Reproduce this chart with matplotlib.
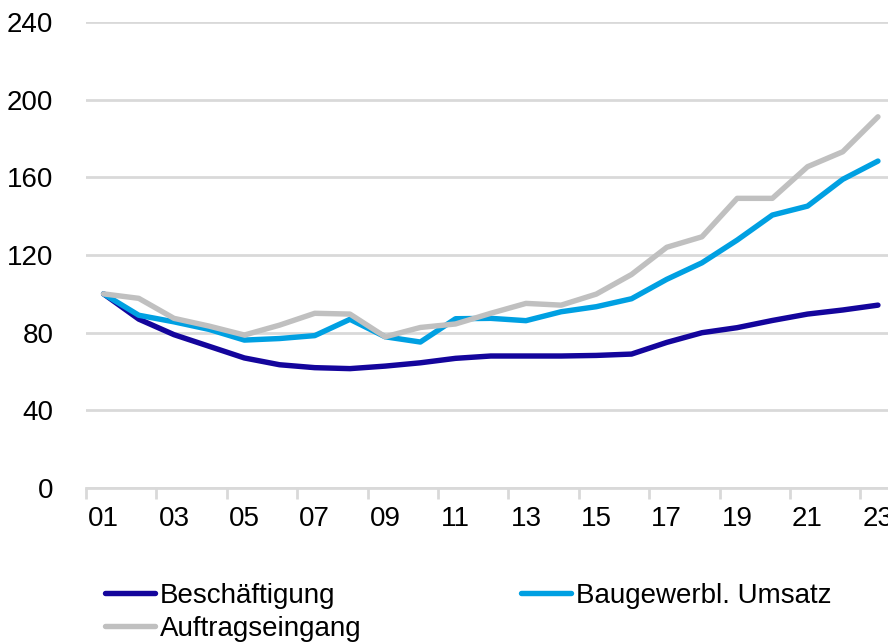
import matplotlib.pyplot as plt

years = list(range(1, 24))
tick_labels = ["01", "03", "05", "07", "09", "11", "13", "15", "17", "19", "21", "23"]

beschaeftigung = [100, 87, 79, 73, 67, 63.5, 62, 61.5, 62.8, 64.5, 66.8, 68, 68, 68, 68.3, 69,
                  75, 80, 82.6, 86.3, 89.6, 91.7, 94.2]
umsatz = [100, 89, 85.6, 81.7, 76.2, 77, 78.5, 86.9, 77.9, 75.2, 87.2, 87.4, 86.2, 90.8, 93.4, 97.5,
          107.5, 116, 127.7, 140.6, 145.2, 159, 168.4]
auftrag = [100, 97.7, 87.4, 83.4, 78.8, 83.9, 90, 89.6, 77.9, 82.7, 84.5, 90, 95.1, 94.2, 99.9, 110,
           124, 129.4, 149.2, 149.2, 165.5, 173.2, 191.2]

plt.rcParams['font.family'] = ['Liberation Sans', 'DejaVu Sans']

fig = plt.figure(figsize=(8.88, 6.43), dpi=100)
ax = fig.add_axes([0.0968, 0.241, 0.9117, 0.7247])

l1, = ax.plot(years, beschaeftigung, color='#14059c', lw=3.9, label='Beschäftigung', solid_capstyle='round', zorder=2)
l2, = ax.plot(years, umsatz, color='#00a0e2', lw=3.9, label='Baugewerbl. Umsatz', solid_capstyle='round', zorder=3)
l3, = ax.plot(years, auftrag, color='#c0c0c0', lw=3.9, label='Auftragseingang', solid_capstyle='round', zorder=4)

ax.set_xlim(0.5, 23.5)
ax.set_ylim(0, 240)
ax.set_yticks(range(0, 241, 40))
ax.yaxis.grid(True, color='#d9d9d9', lw=2)
ax.set_axisbelow(True)

# ticks between categories, labels on every other year
ax.set_xticks([0.5 + 2 * i for i in range(12)])
ax.set_xticklabels([])
ax.set_xticks(list(range(1, 24, 2)), minor=True)
ax.set_xticklabels(tick_labels, minor=True)
ax.tick_params(axis='x', which='major', length=8, width=2, color='#d9d9d9')
ax.tick_params(axis='x', which='minor', length=0, pad=13, labelsize=20)
ax.tick_params(axis='y', length=0, pad=23.5, labelsize=20)

for s in ['top', 'right', 'left']:
    ax.spines[s].set_visible(False)
ax.spines['bottom'].set_color('#d9d9d9')
ax.spines['bottom'].set_linewidth(2)

fig.legend(handles=[l1, l3, l2], ncol=2, loc='upper left', bbox_to_anchor=(0.118, 0.094),
           frameon=False, fontsize=20, handlelength=1.8, handletextpad=0.18,
           columnspacing=5.75, labelspacing=0.27, borderaxespad=0, borderpad=0)

fig.savefig('out.png', dpi=100)
